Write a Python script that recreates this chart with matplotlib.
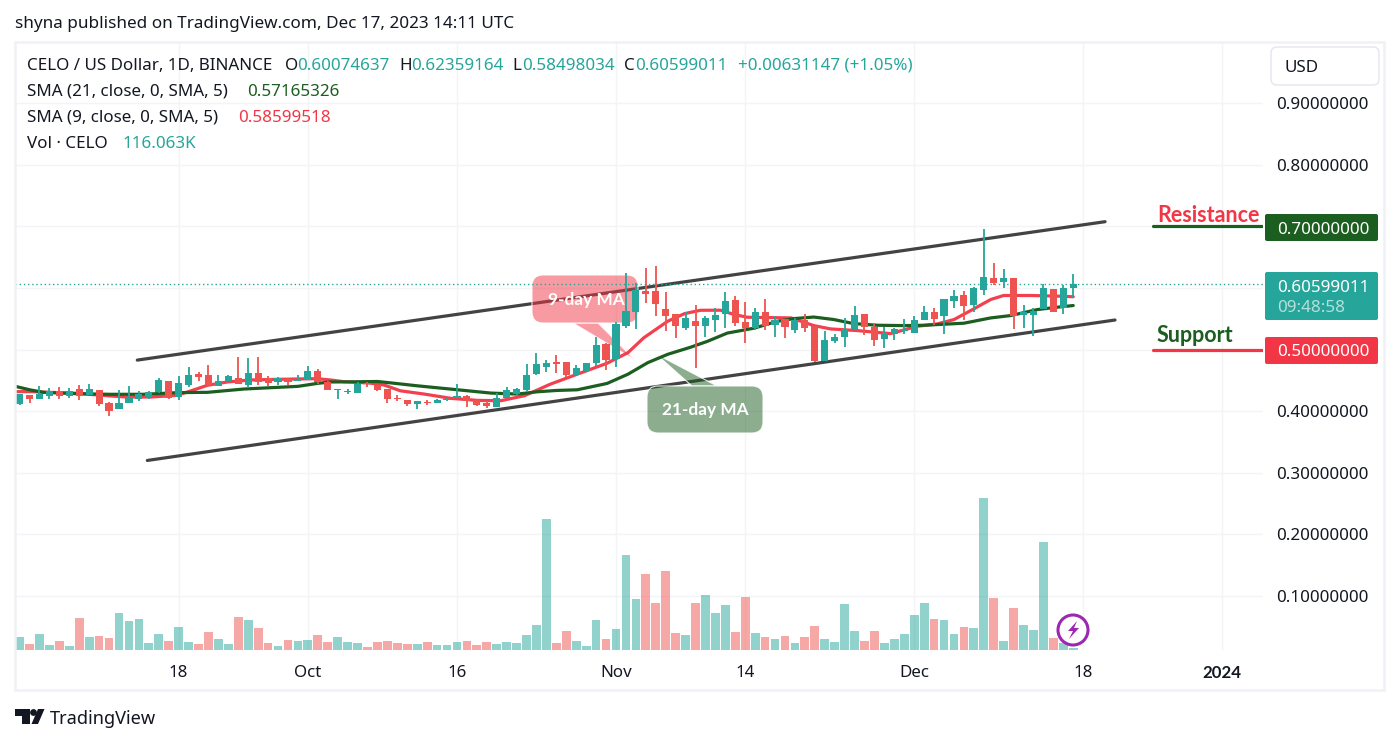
import matplotlib
matplotlib.use("Agg")
import matplotlib.pyplot as plt
from matplotlib.patches import FancyBboxPatch, Polygon, Circle, Rectangle
from matplotlib.colors import to_rgba
import numpy as np

plt.rcParams['font.family'] = ['Noto Sans', 'DejaVu Sans']

# ---------- data (daily candles, Sep 2 .. Dec 17 2023) ----------
opens = [.4114,.4260,.4195,.4244,.4336,.4244,.4357,.4260,.4341,.4130,.4033,.4130,.4195,.4227,.4308,.4487,.4227,.4422,.4600,.4584,
         .4406,.4487,.4536,.4422,.4617,.4536,.4471,.4519,.4492,.4503,.4649,.4471,.4346,.4314,.4292,.4452,.4425,.4360,.4215,.4183,
         .4118,.4156,.4140,.4183,.4215,.4247,.4177,.4134,.4075,.4215,.4280,.4344,.4602,.4720,.4796,.4796,.4586,.4651,.4780,.5086,
         .4844,.5392,.5618,.5957,.5957,.5667,.5586,.5360,.5473,.5392,.5490,.5587,.5799,.5457,.5360,.5620,.5408,.5506,.5327,.5490,
         .5392,.4821,.5147,.5212,.5343,.5587,.5375,.5180,.5261,.5310,.5278,.5490,.5604,.5555,.5783,.5881,.5718,.5962,.6158,.6093,
         .6158,.5571,.5571,.5653,.5979,.5685,.60074637]
highs = [.4276,.4260,.4406,.4373,.4390,.4373,.4422,.4438,.4341,.4146,.4341,.4406,.4325,.4325,.4536,.4487,.4568,.4714,.4633,.4746,
         .4584,.4584,.4876,.4860,.4876,.4568,.4552,.4536,.4584,.4730,.4681,.4487,.4357,.4357,.4471,.4468,.4425,.4360,.4263,.4183,
         .4167,.4183,.4199,.4237,.4441,.4263,.4199,.4167,.4296,.4392,.4376,.4763,.4941,.4828,.4909,.4796,.4747,.4780,.5199,.5102,
         .5457,.6247,.6086,.6328,.6360,.5941,.5586,.5618,.5718,.5544,.5685,.5930,.5865,.5767,.5685,.5816,.5555,.5506,.5522,.5587,
         .5392,.5310,.5261,.5522,.5702,.5587,.5441,.5375,.5359,.5506,.5555,.5702,.5669,.5816,.5962,.5946,.6011,.6957,.6403,.6305,
         .6158,.5718,.5669,.6060,.5979,.6044,.62359164]
lows = [.4103,.4136,.4195,.4200,.4200,.4217,.4179,.4260,.4081,.3919,.4033,.4130,.4163,.4195,.4292,.4195,.4179,.4390,.4487,.4406,
        .4406,.4487,.4438,.4373,.4422,.4406,.4422,.4422,.4492,.4503,.4438,.4341,.4195,.4276,.4292,.4398,.4328,.4140,.4167,.4086,
        .4043,.4108,.4140,.4167,.4215,.4070,.4091,.4054,.4075,.4215,.4247,.4328,.4586,.4640,.4618,.4554,.4586,.4651,.4731,.4667,
        .4715,.5360,.5328,.5763,.5554,.5296,.5183,.5312,.4707,.5212,.5294,.5360,.5392,.5115,.5327,.5327,.5212,.5196,.5278,.5294,
        .4805,.4821,.5115,.5049,.5327,.5245,.5066,.5033,.5163,.5261,.5278,.5490,.5408,.5261,.5685,.5490,.5620,.5881,.6044,.5995,
        .5343,.5360,.5229,.5653,.5620,.5587,.58498034]
closes = [.4276,.4195,.4276,.4330,.4244,.4325,.4244,.4357,.4114,.4000,.4130,.4227,.4276,.4308,.4503,.4211,.4454,.4584,.4552,.4422,
          .4487,.4568,.4438,.4617,.4471,.4454,.4536,.4471,.4519,.4649,.4471,.4341,.4357,.4325,.4438,.4436,.4349,.4199,.4199,.4118,
          .4167,.4140,.4183,.4204,.4247,.4167,.4108,.4086,.4215,.4344,.4360,.4586,.4763,.4780,.4763,.4586,.4699,.4780,.5070,.4828,
          .5425,.5634,.5973,.5909,.5737,.5554,.5392,.5522,.5392,.5522,.5571,.5783,.5441,.5360,.5620,.5392,.5490,.5375,.5490,.5360,
          .4821,.5163,.5212,.5343,.5571,.5375,.5163,.5278,.5343,.5343,.5490,.5620,.5506,.5816,.5865,.5702,.5995,.6174,.6077,.6158,
          .5555,.5604,.5636,.5995,.5620,.5995,.60599011]
volumes_k = [650,300,800,250,450,200,1600,650,700,600,1850,1450,1550,350,800,450,1150,400,300,900,
             550,300,1650,1500,1100,350,200,500,450,500,750,400,650,400,350,150,400,450,350,300,
             300,400,250,250,400,450,250,400,300,400,350,750,1250,6550,350,950,450,200,1500,550,
             1050,4750,2550,3800,2350,3950,850,750,2350,2750,1850,2250,900,2650,850,650,550,700,350,650,
             1200,550,400,2300,950,450,950,350,550,800,1750,2350,1550,1500,800,1150,1100,7600,2600,450,
             2100,1250,1000,5400,600,370,116]

sma21_days = [-0.43,1.1,2.4,5.8,9.1,12.5,15.9,18.9,22.6,28,30,31.3,33.3,36,37.3,40,43.4,47.4,50.1,52.1,54.1,56.1,59.1,61.2,63.2,65.2,67.5,69.2,71.2,73.9,76.2,77.9,79.9,81.9,83.9,86.3,89,91,95,97.7,99.7,102.4,104.4,106]
sma21_vals = [.4405,.4346,.4308,.4286,.4276,.4276,.4303,.4308,.4362,.4405,.4454,.4476,.4478,.4484,.4462,.4414,.4360,.4296,.4280,.4317,.4339,.4349,.4452,.4602,.4790,.4925,.5040,.5136,.5270,.5350,.5460,.5505,.5530,.5490,.5424,.5397,.5391,.5397,.5430,.5516,.5554,.5652,.5690,.5717]
sma9_days = [-0.43,1.1,5.8,9.1,10.8,13.2,15.8,17.2,18.9,20.9,23.2,25.9,29.9,31.3,32.6,35.3,36.7,38.3,40.7,43.4,46.1,48.4,50.8,53.4,56.1,59.1,61.2,62.8,65.2,66.9,68.5,70.5,71.9,73.2,77.6,79.9,81.6,84.3,87.6,90.3,92.3,94,96,97.7,99,101.7,104.4,106]
sma9_vals = [.4319,.4319,.4292,.4249,.4232,.4232,.4259,.4330,.4422,.4476,.4508,.4519,.4530,.4508,.4481,.4457,.4425,.4333,.4280,.4210,.4177,.4172,.4253,.4441,.4602,.4780,.4952,.5194,.5462,.5586,.5640,.5641,.5571,.5527,.5516,.5391,.5337,.5310,.5261,.5380,.5418,.5489,.5663,.5815,.5880,.5880,.5870,.5860]

upper_channel_days = [11.84, 109.2]
upper_channel_vals = [.4831, .7078]
lower_channel_days = [12.85, 110.2]
lower_channel_vals = [.3202, .5482]
resistance_level = 0.70
support_level = 0.50
last_price = closes[-1]
level_start_day = 114.07

tick_days = [16, 29, 44, 60, 73, 90, 107, 121]
tick_labels = ['18', 'Oct', '16', 'Nov', '14', 'Dec', '18', '2024']
price_ticks = [.1, .2, .3, .4, .5, .6, .7, .8, .9]
price_tick_labels = ['0.10000000', '0.20000000', '0.30000000', '0.40000000', '', '', '', '0.80000000', '0.90000000']

# ---------- colours ----------
UP, DOWN = '#26a69a', '#ef5350'
GREEN, RED = '#1b5e20', '#f23645'
INK, GRID, FRAME = '#131722', '#f3f4f6', '#eff1f6'
BOLD = ['Lato', 'DejaVu Sans']

W, H = 1400, 744
fig = plt.figure(figsize=(W / 100, H / 100), dpi=100, facecolor='white')
L, R, T, B = 15, 1262.5, 42, 650
rect = [L / W, 1 - B / H, (R - L) / W, (B - T) / H]
X0, DX = 19.6, 9.94
xlim = ((L - X0) / DX, (R - X0) / DX)
ylim = (.9 - (B - 103.3) / 616, .9 + (103.3 - T) / 616)
days = np.arange(len(closes))
c_up = np.array(closes) >= np.array(opens)

# grid + drawings layer (below the callouts)
axd = fig.add_axes(rect, facecolor='white', zorder=1.5)
axd.set_xlim(*xlim)
axd.set_ylim(*ylim)
axd.set_xticks(tick_days, [''] * len(tick_days))
axd.set_yticks(price_ticks, [''] * len(price_ticks))
axd.tick_params(length=0)
for s in axd.spines.values():
    s.set_visible(False)
axd.grid(True, color=GRID, lw=1.0, zorder=0)
axd.set_axisbelow(True)
axd.plot(upper_channel_days, upper_channel_vals, color='#434343', lw=2.3, zorder=4, solid_capstyle='round')
axd.plot(lower_channel_days, lower_channel_vals, color='#434343', lw=2.3, zorder=4, solid_capstyle='round')
axd.plot([level_start_day, xlim[1]], [resistance_level] * 2, color=GREEN, lw=2.3, zorder=4, solid_capstyle='round')
axd.plot([level_start_day, xlim[1]], [support_level] * 2, color=RED, lw=2.3, zorder=4, solid_capstyle='round')

# volume bars
axv = fig.add_axes(rect, facecolor='none', zorder=1.6)
axv.set_xlim(*xlim)
axv.set_ylim(0, (B - T) * 50)
axv.axis('off')
axv.bar(days, volumes_k, width=.88, color=[to_rgba(UP if u else DOWN, .5) for u in c_up], linewidth=0)

# callouts (over the trend lines, under the candles)
ovc = fig.add_axes([0, 0, 1, 1], facecolor='none', zorder=1.7)
ovc.set_xlim(0, W)
ovc.set_ylim(H, 0)
ovc.axis('off')

def callout(x0, y0, x1, y1, tail, color, alpha):
    fc = to_rgba(color, alpha)
    ec = (1, 1, 1, .85)
    ovc.add_patch(Polygon(tail, closed=True, fc=fc, ec=ec, lw=.8))
    ovc.add_patch(FancyBboxPatch((x0, y0), x1 - x0, y1 - y0, boxstyle='round,pad=0,rounding_size=11',
                                 fc=fc, ec=ec, lw=.8))

callout(532, 275, 638, 323, [(573, 323), (598, 323), (635, 360)], RED, .5)
callout(647, 386, 763, 433, [(692, 386), (717, 386), (656, 354)], GREEN, .5)

# price layer
ax = fig.add_axes(rect, facecolor='none', zorder=2)
ax.set_xlim(*xlim)
ax.set_ylim(*ylim)
ax.set_xticks(tick_days, tick_labels)
ax.set_yticks(price_ticks, price_tick_labels)
ax.yaxis.tick_right()
ax.tick_params(axis='x', length=0, pad=11, labelsize=12.2, labelcolor=INK)
ax.tick_params(axis='y', length=0, pad=10, labelsize=12.25, labelcolor=INK)
lab = ax.get_xticklabels()[-1]
lab.set_fontweight('bold')
lab.set_family(BOLD)
for s in ax.spines.values():
    s.set_visible(False)

ax.axhline(last_price, color=UP, lw=1, ls=(0, (1, 2)), zorder=1)
ax.plot(sma9_days, sma9_vals, color=RED, lw=2.3, zorder=2, solid_capstyle='round', alpha=.95)
ax.plot(sma21_days, sma21_vals, color=GREEN, lw=2.3, zorder=2.1, solid_capstyle='round')

colors = [UP if u else DOWN for u in c_up]
ax.vlines(days, lows, highs, colors=colors, lw=1.3, zorder=3)
bot = np.minimum(opens, closes)
ax.bar(days, np.maximum(np.abs(np.array(closes) - np.array(opens)), .0012), bottom=bot, width=.72, color=colors, linewidth=0, zorder=3.1)

# overlay in figure pixels for chart chrome
ov = fig.add_axes([0, 0, 1, 1], facecolor='none', zorder=3)
ov.set_xlim(0, W)
ov.set_ylim(H, 0)
ov.axis('off')

ov.add_patch(Rectangle((15, 42), 1369, 648, fill=False, ec=FRAME, lw=1.8))

def t(x, y, s, color=INK, size=12.25, ha='left', **kw):
    return ov.text(x, y + 1.5, s, color=color, fontsize=size, ha=ha, va='center', **kw)

t(15, 23, 'shyna published on TradingView.com, Dec 17, 2023 14:11 UTC', size=12.3)
t(27, 64, 'CELO / US Dollar, 1D, BINANCE')
t(285, 64, 'O'); t(297, 64, '0.60074637', UP)
t(399, 64, 'H'); t(411, 64, '0.62359164', UP)
t(512, 64, 'L'); t(522, 64, '0.58498034', UP)
t(624, 64, 'C'); t(635, 64, '0.60599011', UP)
t(738, 64, '+0.00631147 (+1.05%)', UP)
t(27, 90, 'SMA (21, close, 0, SMA, 5)'); t(247, 90, '0.57165326', GREEN)
t(27, 116, 'SMA (9, close, 0, SMA, 5)'); t(238, 116, '0.58599518', RED)
t(27, 142, 'Vol · CELO'); t(122, 142, '116.063K', UP)

# currency button
ov.add_patch(FancyBboxPatch((1271, 47), 108, 38, boxstyle='round,pad=0,rounding_size=6', fc='white', ec='#e6e8ef', lw=1.1))
t(1285, 66, 'USD')

# price boxes
def box(y0, y1, color):
    ov.add_patch(FancyBboxPatch((1265, y0), 113, y1 - y0, boxstyle='round,pad=0,rounding_size=2', fc=color, ec='none'))
box(214, 241, GREEN); t(1277, 228, '0.70000000', 'white', 12.25)
box(337, 364, RED); t(1277, 350.5, '0.50000000', 'white', 12.25)
box(272, 320, UP)
t(1277, 286, '0.60599011', 'white', 12.25)
t(1277, 306, '09:48:58', '#b3e0da', 12.25)

t(1157, 214, 'Resistance', RED, 15.5, family=BOLD, fontweight='bold')
t(1157, 334, 'Support', GREEN, 15.5, family=BOLD, fontweight='bold')

t(586, 298, '9-day MA', 'white', 12.4, ha='center', family=BOLD, fontweight='bold')
t(705, 409, '21-day MA', 'white', 12.4, ha='center', family=BOLD, fontweight='bold')

# lightning badge
ov.add_patch(Circle((1073, 630), 15, fc=(1, 1, 1, .75), ec='#9c27b0', lw=2.2, zorder=6))
ov.add_patch(Polygon([(1077, 621), (1068, 631), (1073, 631), (1069, 639), (1079, 628), (1074, 628)],
                     closed=True, fc='#9c27b0', ec='none', zorder=7))

# TradingView logo
ov.add_patch(Polygon([(15, 709), (30, 709), (30, 724), (22, 724), (22, 716), (15, 716)], closed=True, fc=INK, ec='none'))
ov.add_patch(Circle((33.5, 712.5), 3.4, fc=INK, ec='none'))
ov.add_patch(Polygon([(38, 709), (44.5, 709), (38, 724), (31.5, 724)], closed=True, fc=INK, ec='none'))
t(50, 717, 'TradingView', size=13.1)

fig.savefig('out.png', dpi=100, facecolor='white')
